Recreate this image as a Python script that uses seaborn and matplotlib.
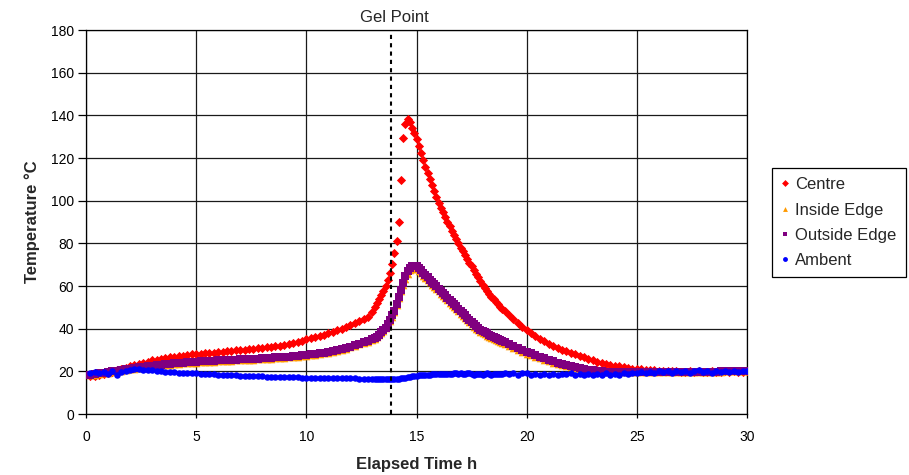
import numpy as np
import pandas as pd
import matplotlib
matplotlib.use("Agg")
import matplotlib.pyplot as plt
import seaborn as sns
from matplotlib.lines import Line2D

# logger sampling times (h): every 0.2 h, every 0.1 h around the exotherm
elapsed_h = np.round(np.concatenate([np.arange(1, 65) * 0.2,
                                     np.arange(130, 191) * 0.1,
                                     np.arange(96, 151) * 0.2]), 1)

centre = [
    17.6, 17.9, 18.3, 18.8, 19.3, 19.9, 20.5, 21.1, 21.7, 22.3,
    22.9, 23.5, 24.0, 24.6, 25.1, 25.5, 25.9, 26.3, 26.6, 26.9,
    27.2, 27.4, 27.7, 27.9, 28.1, 28.3, 28.5, 28.7, 28.8, 29.0,
    29.2, 29.4, 29.6, 29.8, 30.0, 30.2, 30.4, 30.6, 30.8, 31.0,
    31.3, 31.5, 31.8, 32.1, 32.4, 32.8, 33.2, 33.7, 34.3, 35.0,
    35.5, 36.0, 36.6, 37.2, 37.8, 38.5, 39.2, 40.0, 40.9, 41.7,
    42.6, 43.5, 44.4, 45.4,
    48.0, 50.0, 52.0, 54.0, 55.8, 57.6, 60.0, 62.8, 66.0, 70.5,
    75.5, 81.0, 90.0, 109.5, 129.5, 136.0, 138.5, 137.0, 134.0, 131.5,
    129.0, 125.5, 122.5, 119.0, 116.0, 113.0, 110.0, 107.2, 104.5, 101.7,
    99.0, 96.7, 94.5, 92.2, 90.0, 88.0, 86.0, 84.0, 82.0, 80.0,
    78.0, 76.2, 74.5, 72.7, 71.0, 69.2, 67.5, 65.7, 64.0, 62.2,
    60.5, 59.0, 57.5, 56.2, 55.0, 53.7, 52.5, 51.4, 50.3, 49.3,
    48.3,
    46.3, 44.5, 42.7, 41.0, 39.4,
    38.0, 36.5, 35.0, 34.0, 33.0, 32.0, 31.0, 30.2, 29.4, 28.6,
    27.9, 27.2, 26.6, 26.0, 25.3, 24.6, 24.0, 23.5, 23.1, 22.7,
    22.3, 21.9, 21.6, 21.3, 21.1, 20.9, 20.7, 20.5, 20.4, 20.3,
    20.2, 20.1, 20.0, 20.0, 19.9, 19.9, 20.0, 19.9, 20.0, 19.9,
    19.9, 20.0, 19.9, 19.9, 20.0, 19.9, 20.0, 19.9, 19.9, 20.0,
]

inside_edge = [
    18.2, 18.5, 18.8, 19.1, 19.4, 19.7, 20.0, 20.3, 20.6, 20.9,
    21.2, 21.5, 21.7, 22.0, 22.3, 22.6, 22.8, 23.0, 23.2, 23.4,
    23.5, 23.7, 23.8, 24.0, 24.1, 24.3, 24.4, 24.5, 24.6, 24.7,
    24.8, 24.9, 25.0, 25.1, 25.2, 25.3, 25.4, 25.5, 25.6, 25.7,
    25.8, 26.0, 26.1, 26.2, 26.4, 26.5, 26.7, 26.9, 27.1, 27.3,
    27.5, 27.8, 28.1, 28.4, 28.8, 29.2, 29.6, 30.1, 30.6, 31.2,
    31.9, 32.6, 33.3, 33.9,
    34.6, 35.2, 35.9, 36.8, 37.9, 38.9, 40.1, 41.7, 43.5, 45.7,
    48.0, 51.2, 54.5, 57.6, 60.5, 63.3, 65.8, 67.4, 68.2, 68.3,
    67.9, 67.0, 66.0, 64.9, 63.8, 62.7, 61.7, 60.6, 59.6, 58.5,
    57.5, 56.4, 55.4, 54.3, 53.3, 52.2, 51.2, 50.2, 49.2, 48.1,
    47.1, 46.0, 45.0, 44.0, 43.0, 42.0, 41.0, 40.0, 39.2, 38.5,
    37.9, 37.3, 36.7, 36.1, 35.6, 35.1, 34.6, 34.1, 33.6, 33.1,
    32.7,
    31.8, 30.9, 30.0, 29.1, 28.3,
    27.6, 26.8, 26.1, 25.4, 24.8, 24.1, 23.5, 22.8, 22.3, 21.9,
    21.5, 21.2, 20.8, 20.5, 20.3, 20.1, 19.9, 19.8, 19.7, 19.6,
    19.6, 19.5, 19.5, 19.5, 19.6, 19.6, 19.6, 19.7, 19.7, 19.7,
    19.8, 19.8, 19.8, 19.8, 19.8, 19.9, 19.9, 19.9, 19.9, 19.9,
    19.9, 19.9, 19.9, 19.9, 20.0, 20.0, 20.0, 20.0, 20.0, 20.0,
]

outside_edge = [
    18.5, 18.8, 19.1, 19.4, 19.7, 20.0, 20.3, 20.6, 20.9, 21.2,
    21.5, 21.8, 22.1, 22.4, 22.7, 23.0, 23.2, 23.4, 23.6, 23.8,
    23.9, 24.1, 24.2, 24.4, 24.5, 24.7, 24.8, 24.9, 25.0, 25.1,
    25.2, 25.3, 25.4, 25.5, 25.6, 25.7, 25.8, 25.9, 26.0, 26.1,
    26.2, 26.4, 26.5, 26.6, 26.8, 26.9, 27.1, 27.3, 27.5, 27.7,
    27.9, 28.2, 28.5, 28.8, 29.2, 29.6, 30.0, 30.5, 31.0, 31.6,
    32.3, 33.0, 33.7, 34.3,
    35.0, 35.6, 36.3, 37.2, 38.3, 39.3, 40.5, 42.2, 44.0, 46.2,
    48.5, 51.7, 55.0, 58.2, 61.5, 64.5, 67.0, 68.6, 69.5, 69.6,
    69.2, 68.3, 67.3, 66.1, 65.0, 64.0, 63.0, 61.9, 60.9, 59.8,
    58.8, 57.7, 56.7, 55.6, 54.6, 53.5, 52.5, 51.5, 50.5, 49.4,
    48.4, 47.3, 46.3, 45.2, 44.2, 43.1, 42.1, 41.1, 40.3, 39.6,
    39.0, 38.4, 37.8, 37.2, 36.7, 36.2, 35.7, 35.2, 34.7, 34.2,
    33.8,
    32.9, 32.0, 31.0, 30.1, 29.2,
    28.5, 27.7, 26.9, 26.2, 25.5, 24.8, 24.1, 23.3, 22.8, 22.3,
    21.9, 21.5, 21.1, 20.8, 20.5, 20.3, 20.1, 19.9, 19.8, 19.7,
    19.6, 19.6, 19.6, 19.6, 19.6, 19.6, 19.7, 19.7, 19.7, 19.8,
    19.8, 19.8, 19.8, 19.8, 19.9, 19.9, 19.9, 19.9, 19.9, 19.9,
    19.9, 19.9, 19.9, 20.0, 20.0, 20.0, 20.0, 20.0, 20.0, 20.0,
]

ambent = [
    19.2, 19.8, 19.0, 19.7, 18.9, 20.3, 18.5, 19.7, 20.3, 20.6,
    21.0, 20.9, 20.8, 20.6, 20.4, 20.2, 20.0, 19.9, 19.7, 19.6,
    19.4, 19.3, 19.2, 19.1, 19.0, 18.9, 18.8, 18.7, 18.6, 18.5,
    18.4, 18.3, 18.2, 18.1, 18.0, 17.9, 17.8, 17.7, 17.7, 17.6,
    17.5, 17.5, 17.4, 17.4, 17.3, 17.3, 17.2, 17.2, 17.1, 17.1,
    17.0, 17.0, 16.9, 16.9, 16.9, 16.8, 16.8, 16.8, 16.7, 16.7,
    16.7, 16.6, 16.6, 16.5,
    16.5, 16.5, 16.4, 16.4, 16.4, 16.3, 16.3, 16.3, 16.3, 16.3,
    16.4, 16.5, 16.6, 16.7, 16.9, 17.1, 17.3, 17.5, 17.7, 17.9,
    18.0, 18.1, 18.2, 18.3, 18.4, 18.5, 18.5, 18.6, 18.6, 18.7,
    18.7, 18.8, 18.8, 18.9, 18.9, 18.9, 18.9, 19.0, 19.0, 18.8,
    19.0, 18.7, 18.6, 19.0, 19.1, 18.7, 18.3, 18.6, 18.9, 18.7,
    18.5, 18.8, 19.0, 18.6, 18.4, 18.7, 18.9, 18.8, 18.6, 18.9,
    19.2,
    18.7, 19.0, 18.5, 19.3, 19.0,
    18.4, 18.7, 18.3, 18.6, 18.5, 18.8, 18.4, 18.9, 18.6, 19.0,
    18.5, 18.9, 18.3, 18.8, 18.1, 18.7, 18.4, 19.0, 18.3, 18.8,
    18.5, 19.1, 18.6, 19.3, 19.0, 19.6, 19.4, 19.9, 19.2, 20.2,
    19.5, 20.3, 19.2, 20.1, 19.6, 20.3, 19.4, 20.0, 20.4, 19.7,
    20.2, 19.3, 20.1, 19.9, 20.3, 19.8, 20.1, 19.9, 20.2, 20.0,
]

series_names = ["Centre", "Inside Edge", "Outside Edge", "Ambent"]
gel_point_h = 13.86
x_ticks = [0, 5, 10, 15, 20, 25, 30]
y_ticks = [0, 20, 40, 60, 80, 100, 120, 140, 160, 180]

sns.set_style("white")
plt.rcParams["font.family"] = ["Liberation Sans", "DejaVu Sans"]

values = {"Centre": centre, "Inside Edge": inside_edge,
          "Outside Edge": outside_edge, "Ambent": ambent}
df = pd.concat(
    [pd.DataFrame({"Elapsed Time h": elapsed_h, "Temperature": values[n], "Series": n})
     for n in series_names],
    ignore_index=True,
)

colors = {"Centre": "#FF0000", "Inside Edge": "#FF9900",
          "Outside Edge": "#800080", "Ambent": "#0000FF"}
markers = {"Centre": "D", "Inside Edge": "^", "Outside Edge": "s", "Ambent": "o"}
msizes = {"Centre": 22, "Inside Edge": 30, "Outside Edge": 26, "Ambent": 22}

fig = plt.figure(figsize=(9.09, 4.75), dpi=100)
ax = fig.add_axes([86 / 909, 1 - 414 / 475, (747 - 86) / 909, (414 - 30) / 475])

for n in series_names:
    sub = df[df["Series"] == n]
    sns.scatterplot(data=sub, x="Elapsed Time h", y="Temperature", ax=ax,
                    color=colors[n], marker=markers[n], s=msizes[n],
                    linewidth=0, legend=False, zorder=3)

ax.axvline(gel_point_h, color="black", linestyle=(0, (2, 2)), lw=1.5, zorder=4)
ax.text(13.99, 186, "Gel Point", ha="center", va="center", fontsize=12,
        clip_on=False)

ax.set_xlim(0, 30)
ax.set_ylim(0, 180)
ax.set_xticks(x_ticks)
ax.set_yticks(y_ticks)
ax.grid(True, color="#1a1a1a", linewidth=0.9)
ax.set_axisbelow(True)
for sp in ax.spines.values():
    sp.set_color("black")
    sp.set_linewidth(0.9)
ax.tick_params(axis="x", direction="out", length=3, width=0.9, pad=8.5,
               labelsize=10, colors="black", bottom=True)
ax.tick_params(axis="y", direction="out", length=6, width=0.9, pad=2.5,
               labelsize=10, colors="black", left=True)

ax.set_xlabel("Elapsed Time h", fontsize=12, fontweight="bold")
ax.set_ylabel("Temperature °C", fontsize=12, fontweight="bold")
ax.xaxis.label.set_va("center")
ax.yaxis.label.set_va("center")
ax.xaxis.set_label_coords(0.5, (414 - 464) / 384)
ax.yaxis.set_label_coords((32 - 86) / 661, 0.5)

handles = [Line2D([0], [0], linestyle="none", marker=markers[n], color=colors[n],
                  markersize=3.5, markeredgewidth=0) for n in series_names]
leg = fig.legend(handles, series_names, loc="upper left",
                 bbox_to_anchor=(772 / 909, 1 - 168 / 475), fontsize=12,
                 frameon=True, fancybox=False, framealpha=1, edgecolor="black",
                 handlelength=0.4, handletextpad=0.45, labelspacing=0.62,
                 borderpad=0.55, borderaxespad=0)
leg.get_frame().set_linewidth(0.9)

fig.savefig("out.png", dpi=100)
